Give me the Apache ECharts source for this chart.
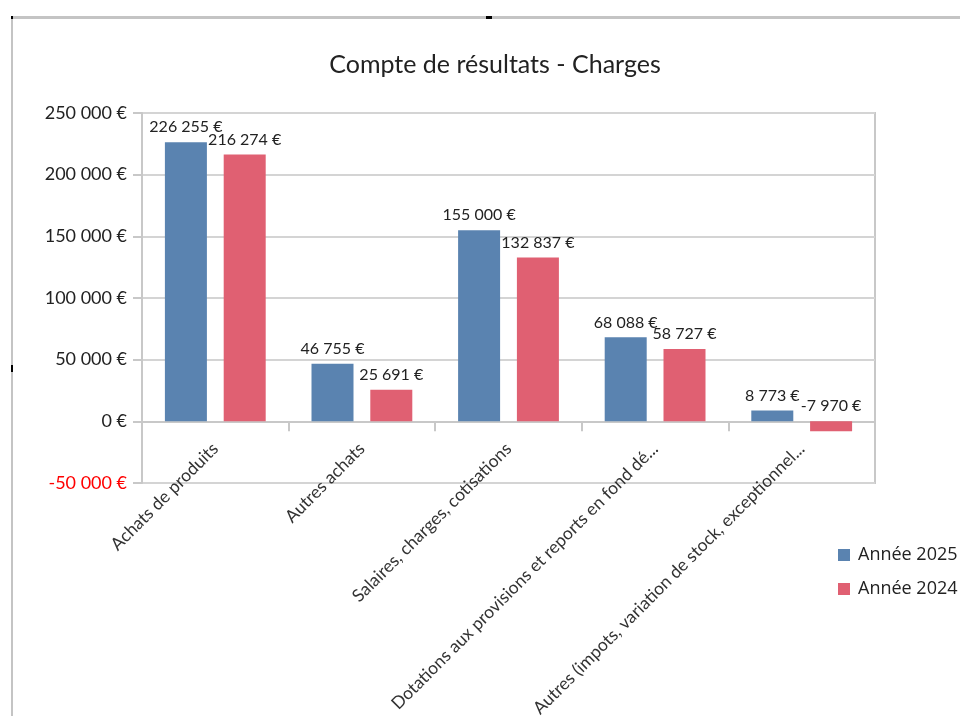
<!DOCTYPE html>
<html>
<head>
<meta charset="utf-8">
<script src="https://cdn.jsdelivr.net/npm/echarts@6/dist/echarts.min.js"></script>
<style>html,body{margin:0;padding:0;background:#fff;overflow:hidden}#c{width:960px;height:716px}</style>
</head>
<body>
<div id="c"></div>
<script>
var titleText = 'Compte de résultats - Charges';
var categories = ['Achats de produits', 'Autres achats', 'Salaires, charges, cotisations', 'Dotations aux provisions et reports en fond dé...', 'Autres (impots, variation de stock, exceptionnel...'];
var seriesNames = ['Année 2025', 'Année 2024'];
var values2025 = [226255, 46755, 155000, 68088, 8773];
var values2024 = [216274, 25691, 132837, 58727, -7970];
var yMin = -50000, yMax = 250000, yInterval = 50000;

function fmt(v) {
  var s = String(Math.abs(Math.round(v))).replace(/\B(?=(\d{3})+(?!\d))/g, ' ');
  return (v < 0 ? '-' : '') + s + ' €';
}

var FONT = 'Lato';
var chart = echarts.init(document.getElementById('c'), null, { width: 960, height: 716 });
var labelCfg = {
  show: true, position: 'top', distance: 7,
  color: '#222', fontFamily: FONT, fontSize: 16,
  formatter: function (p) { return fmt(p.value); }
};
chart.setOption({
  animation: false,
  title: {
    text: titleText, left: 490, textAlign: 'center', top: 47,
    textStyle: { fontFamily: FONT, fontSize: 25, fontWeight: 'normal', color: '#222' }
  },
  legend: {
    data: seriesNames, orient: 'vertical', left: 833, top: 541,
    itemWidth: 12, itemHeight: 12, itemGap: 16, icon: 'rect',
    textStyle: { fontFamily: 'Open Sans', fontSize: 18, color: '#222', padding: [0, 0, 0, 3] }
  },
  grid: {
    left: 142, width: 733, top: 113, height: 370, show: true,
    containLabel: false, outerBoundsMode: 'none',
    borderColor: '#c8c8c8', borderWidth: 2
  },
  xAxis: {
    type: 'category', data: categories,
    axisLine: { onZero: true, lineStyle: { color: '#c8c8c8', width: 2 } },
    axisTick: { show: true, length: 10, lineStyle: { color: '#c8c8c8', width: 2 } },
    axisLabel: { rotate: 45, margin: -37, interval: 0, color: '#333', fontFamily: FONT, fontSize: 17.5 }
  },
  yAxis: {
    type: 'value', min: yMin, max: yMax, interval: yInterval,
    axisLine: { show: true, lineStyle: { color: '#c8c8c8', width: 2 } },
    axisTick: { show: true, length: 9, lineStyle: { color: '#c8c8c8', width: 2 } },
    splitLine: { lineStyle: { color: '#d4d4d4', width: 2 } },
    axisLabel: {
      margin: 15, fontFamily: FONT, fontSize: 18,
      formatter: function (v) { return v < 0 ? '{neg|' + fmt(v) + '}' : '{pos|' + fmt(v) + '}'; },
      rich: {
        pos: { color: '#222', fontFamily: FONT, fontSize: 18 },
        neg: { color: '#ff0000', fontFamily: FONT, fontSize: 18 }
      }
    }
  },
  series: [
    { name: seriesNames[0], type: 'bar', data: values2025, barWidth: 42, barGap: '40%',
      itemStyle: { color: '#5a83b0' }, label: labelCfg },
    { name: seriesNames[1], type: 'bar', data: values2024, barWidth: 42, barGap: '40%',
      itemStyle: { color: '#e06072' }, label: labelCfg }
  ],
  graphic: [
    { type: 'rect', shape: { x: 11, y: 16, width: 949, height: 3 }, style: { fill: '#c4c4c4' } },
    { type: 'rect', shape: { x: 11, y: 16, width: 2, height: 700 }, style: { fill: '#c4c4c4' } },
    { type: 'rect', shape: { x: 11, y: 16, width: 2, height: 3 }, style: { fill: '#000' } },
    { type: 'rect', shape: { x: 486, y: 16, width: 6, height: 3 }, style: { fill: '#000' } },
    { type: 'rect', shape: { x: 11, y: 365, width: 2, height: 7 }, style: { fill: '#000' } }
  ]
});
</script>
</body>
</html>
